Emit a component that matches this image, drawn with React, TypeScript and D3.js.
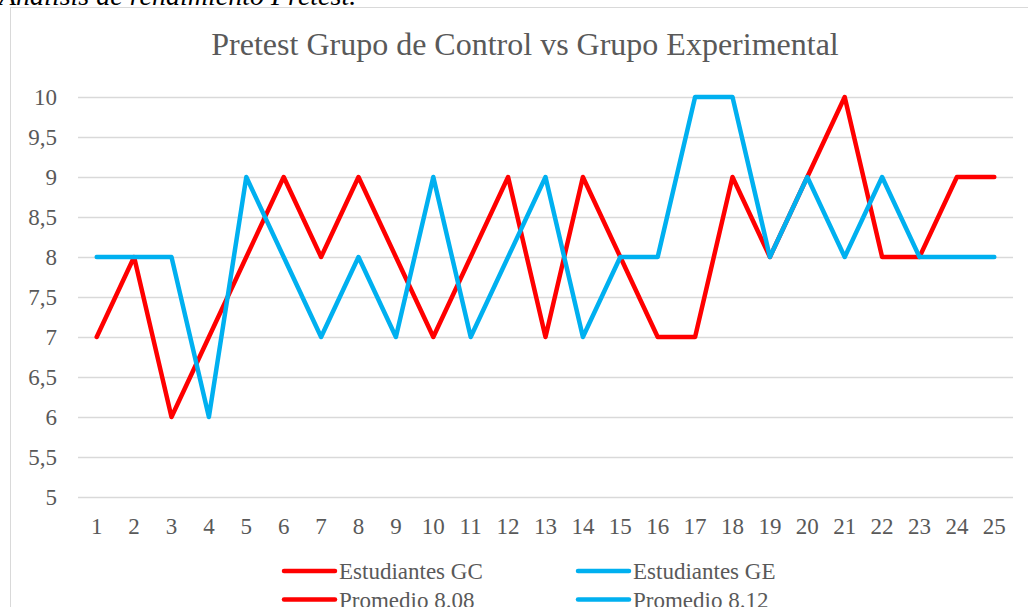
import React, { useEffect, useRef } from 'react';
import * as d3 from 'd3';

const students = d3.range(1, 26).map(String);
const gcScores = [7, 8, 6, 7, 8, 9, 8, 9, 8, 7, 8, 9, 7, 9, 8, 7, 7, 9, 8, 9, 10, 8, 8, 9, 9];
const geScores = [8, 8, 8, 6, 9, 8, 7, 8, 7, 9, 7, 8, 9, 7, 8, 8, 10, 10, 8, 9, 8, 9, 8, 8, 8];
const yTicks = [5, 5.5, 6, 6.5, 7, 7.5, 8, 8.5, 9, 9.5, 10];
const legendItems = [
  { label: 'Estudiantes GC', color: '#FF0000' },
  { label: 'Estudiantes GE', color: '#00B0F0' },
  { label: 'Promedio 8.08', color: '#FF0000' },
  { label: 'Promedio 8.12', color: '#00B0F0' },
];

const W = 1028;
const H = 607;
const FONT = '"Liberation Serif", "Times New Roman", serif';
const TXT = '#595959';

const App: React.FC = () => {
  const svgRef = useRef<SVGSVGElement>(null);

  useEffect(() => {
    if (!svgRef.current) return;
    const svg = d3.select(svgRef.current);
    svg.selectAll('*').remove();

    // caption cut off at the top
    svg.append('text')
      .attr('x', -1)
      .attr('y', 5)
      .attr('font-family', FONT)
      .attr('font-style', 'italic')
      .attr('font-size', 28)
      .attr('fill', '#000')
      .text('Análisis de rendimiento Pretest.');

    // chart frame (right edge falls outside the picture)
    svg.append('rect')
      .attr('x', 10.5).attr('y', 7.5)
      .attr('width', 1030).attr('height', 610)
      .attr('fill', '#fff')
      .attr('stroke', '#d9d9d9');

    const plot = { left: 78, right: 1013, top: 97, bottom: 497 };

    const x = d3.scaleBand().domain(students).range([plot.left, plot.right]);
    const y = d3.scaleLinear().domain([5, 10]).range([plot.bottom, plot.top]);

    svg.append('text')
      .attr('x', 525).attr('y', 55)
      .attr('text-anchor', 'middle')
      .attr('font-family', FONT).attr('font-size', 32)
      .attr('fill', TXT)
      .text('Pretest Grupo de Control vs Grupo Experimental');

    // gridlines + y labels
    const yAxis = svg.append('g')
      .attr('transform', `translate(${plot.left},0)`)
      .call(d3.axisLeft(y).tickValues(yTicks)
        .tickSize(-(plot.right - plot.left))
        .tickPadding(21)
        .tickFormat((d) => String(d).replace('.', ',')));
    yAxis.select('.domain').remove();
    yAxis.selectAll('line').attr('stroke', '#d9d9d9').attr('stroke-width', 1.3);
    yAxis.selectAll('text')
      .attr('font-family', FONT).attr('font-size', 23).attr('fill', TXT);

    const xAxis = svg.append('g')
      .attr('transform', `translate(0,${plot.bottom})`)
      .call(d3.axisBottom(x).tickSize(0).tickPadding(21));
    xAxis.select('.domain').remove();
    xAxis.selectAll('text')
      .attr('font-family', FONT).attr('font-size', 23).attr('fill', TXT);

    const line = d3.line<number>()
      .x((_, i) => (x(students[i]) || 0) + x.bandwidth() / 2)
      .y((d) => y(d));

    svg.append('path')
      .datum(gcScores)
      .attr('d', line)
      .attr('fill', 'none')
      .attr('stroke', '#FF0000')
      .attr('stroke-width', 4.5)
      .attr('stroke-linejoin', 'round')
      .attr('stroke-linecap', 'round');

    svg.append('path')
      .datum(geScores)
      .attr('d', line)
      .attr('fill', 'none')
      .attr('stroke', '#00B0F0')
      .attr('stroke-width', 4.5)
      .attr('stroke-linejoin', 'round')
      .attr('stroke-linecap', 'round');

    // legend, two columns
    const lg = svg.append('g');
    legendItems.forEach((item, i) => {
      const lx = i % 2 === 0 ? 284 : 578;
      const ly = 571 + Math.floor(i / 2) * 28.5;
      lg.append('line')
        .attr('x1', lx).attr('x2', lx + 51)
        .attr('y1', ly).attr('y2', ly)
        .attr('stroke', item.color).attr('stroke-width', 4.5)
        .attr('stroke-linecap', 'round');
      lg.append('text')
        .attr('x', lx + 55).attr('y', ly + 8)
        .attr('font-family', FONT).attr('font-size', 23).attr('fill', TXT)
        .text(item.label);
    });
  }, []);

  return (
    <svg
      ref={svgRef}
      width={W}
      height={H}
      style={{ position: 'absolute', left: 0, top: 0, background: '#fff' }}
    />
  );
};

export default App;
